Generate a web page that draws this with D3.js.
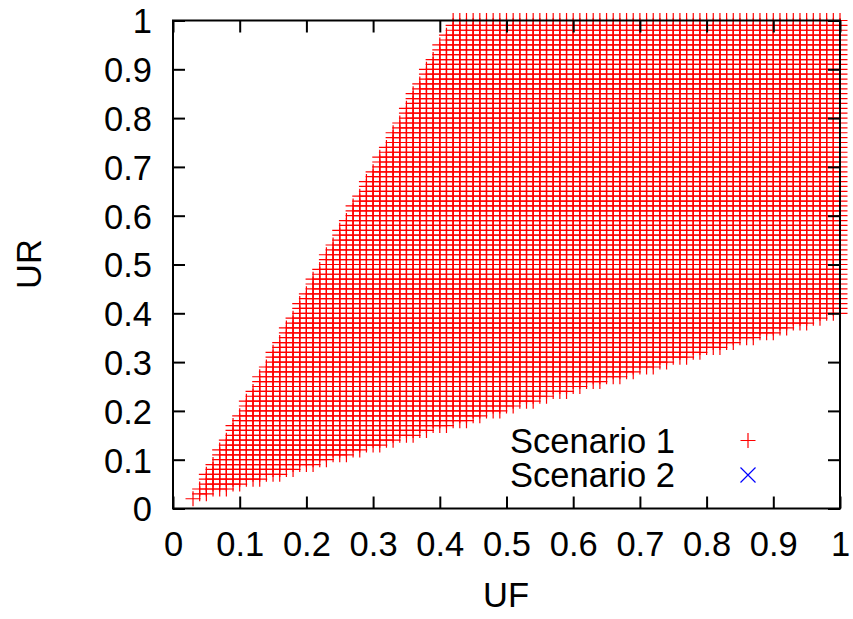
<!DOCTYPE html>
<html>
<head>
<meta charset="utf-8">
<script src="https://cdn.jsdelivr.net/npm/d3@7"></script>
<style>
  html, body { margin: 0; padding: 0; background: #fff; }
  svg { display: block; }
  text { font-family: "Liberation Sans", Arial, sans-serif; fill: #000; }
</style>
</head>
<body>
<svg id="chart" width="853" height="619"></svg>
<script>
// Axis ticks
const xTicks = [0, 0.1, 0.2, 0.3, 0.4, 0.5, 0.6, 0.7, 0.8, 0.9, 1];
const yTicks = [0, 0.1, 0.2, 0.3, 0.4, 0.5, 0.6, 0.7, 0.8, 0.9, 1];
const xTickLabels = ["0", "0.1", "0.2", "0.3", "0.4", "0.5", "0.6", "0.7", "0.8", "0.9", "1"];
const yTickLabels = ["0", "0.1", "0.2", "0.3", "0.4", "0.5", "0.6", "0.7", "0.8", "0.9", "1"];

// Sampling grid of (UF, UR) in hundredths
const gridStep = 0.01;
const gridCount = 100;

// Feasible region of Scenario 1: lower and upper edges (UF, UR)
const scenario1Lower = [[0.03, 0.02], [1.00, 0.40]];
const scenario1Upper = [[0.03, 0.02], [0.42, 1.00], [1.00, 1.00]];

// Scenario 2 has no feasible points
const scenario2Points = [];

const seriesNames = ["Scenario 1", "Scenario 2"];

const svg = d3.select("#chart");
const plotLeft = 173, plotRight = 840, plotTop = 20.5, plotBottom = 508.5;

const x = d3.scaleLinear().domain([0, 1]).range([plotLeft, plotRight]);
const y = d3.scaleLinear().domain([0, 1]).range([plotBottom, plotTop]);

function edgeAt(edge, uf) {
  for (let k = 0; k < edge.length - 1; k++) {
    const [x0, y0] = edge[k], [x1, y1] = edge[k + 1];
    if (uf >= x0 - 1e-9 && uf <= x1 + 1e-9) {
      return y0 + (y1 - y0) * (uf - x0) / (x1 - x0);
    }
  }
  return null;
}

const scenario1Points = [];
for (let i = 1; i <= gridCount; i++) {
  const uf = i * gridStep;
  const lo = edgeAt(scenario1Lower, uf);
  const hi = edgeAt(scenario1Upper, uf);
  if (lo === null || hi === null) continue;
  for (let j = 1; j <= gridCount; j++) {
    const ur = j * gridStep;
    if (ur >= lo - 0.001 && ur <= hi + 0.001) scenario1Points.push([uf, ur]);
  }
}

const arm = 7.5;
const plusPath = (cx, cy) => `M${cx - arm},${cy}H${cx + arm}M${cx},${cy - arm}V${cy + arm}`;
const crossPath = (cx, cy) => `M${cx - arm},${cy - arm}L${cx + arm},${cy + arm}M${cx - arm},${cy + arm}L${cx + arm},${cy - arm}`;

// Scenario 1 points
svg.append("g")
  .selectAll("path")
  .data(scenario1Points)
  .join("path")
  .attr("d", d => plusPath(x(d[0]), y(d[1])))
  .attr("stroke", "#ff0000")
  .attr("stroke-width", 1.2)
  .attr("fill", "none");

// Scenario 2 points
svg.append("g")
  .selectAll("path")
  .data(scenario2Points)
  .join("path")
  .attr("d", d => crossPath(x(d[0]), y(d[1])))
  .attr("stroke", "#0000ff")
  .attr("stroke-width", 1.2)
  .attr("fill", "none");

// Axes with inward ticks, mirrored on all sides
const tickLen = 12;
const fontSize = 34.5;

const axisBottom = d3.axisBottom(x).tickValues(xTicks).tickSize(-tickLen).tickFormat((d, i) => xTickLabels[i]);
const axisTop = d3.axisTop(x).tickValues(xTicks).tickSize(-tickLen).tickFormat("");
const axisLeft = d3.axisLeft(y).tickValues(yTicks).tickSize(-tickLen).tickFormat((d, i) => yTickLabels[i]);
const axisRight = d3.axisRight(y).tickValues(yTicks).tickSize(-tickLen).tickFormat("");

function styleAxis(g) {
  g.select(".domain").remove();
  g.selectAll(".tick line").attr("stroke", "#000").attr("stroke-width", 2);
  g.selectAll(".tick text").attr("font-size", fontSize).attr("font-family", "Liberation Sans, Arial, sans-serif").attr("fill", "#000");
}

svg.append("g").attr("transform", `translate(0,${plotBottom})`).call(axisBottom).call(styleAxis)
  .selectAll(".tick text").attr("y", 47).attr("dy", null);
svg.append("g").attr("transform", `translate(0,${plotTop})`).call(axisTop).call(styleAxis);
svg.append("g").attr("transform", `translate(${plotLeft},0)`).call(axisLeft).call(styleAxis)
  .selectAll(".tick text").attr("x", -21).attr("dy", "0.36em");
svg.append("g").attr("transform", `translate(${plotRight},0)`).call(axisRight).call(styleAxis);

// Plot border
svg.append("rect")
  .attr("x", plotLeft).attr("y", plotTop)
  .attr("width", plotRight - plotLeft).attr("height", plotBottom - plotTop)
  .attr("fill", "none").attr("stroke", "#000").attr("stroke-width", 2);

// Axis titles
svg.append("text")
  .attr("x", 506).attr("y", 607)
  .attr("text-anchor", "middle").attr("font-size", fontSize)
  .text("UF");
svg.append("text")
  .attr("transform", "translate(41,264) rotate(-90)")
  .attr("text-anchor", "middle").attr("font-size", fontSize)
  .text("UR");

// Legend
const legendRows = [
  { name: seriesNames[0], color: "#ff0000", path: plusPath, cy: 440.5 },
  { name: seriesNames[1], color: "#0000ff", path: crossPath, cy: 475 }
];
const legend = svg.append("g");
legend.selectAll("text")
  .data(legendRows)
  .join("text")
  .attr("x", 675).attr("y", d => d.cy + 12)
  .attr("text-anchor", "end").attr("font-size", fontSize)
  .text(d => d.name);
legend.selectAll("path")
  .data(legendRows)
  .join("path")
  .attr("d", d => d.path(748, d.cy))
  .attr("stroke", d => d.color)
  .attr("stroke-width", 1.2)
  .attr("fill", "none");
</script>
</body>
</html>
